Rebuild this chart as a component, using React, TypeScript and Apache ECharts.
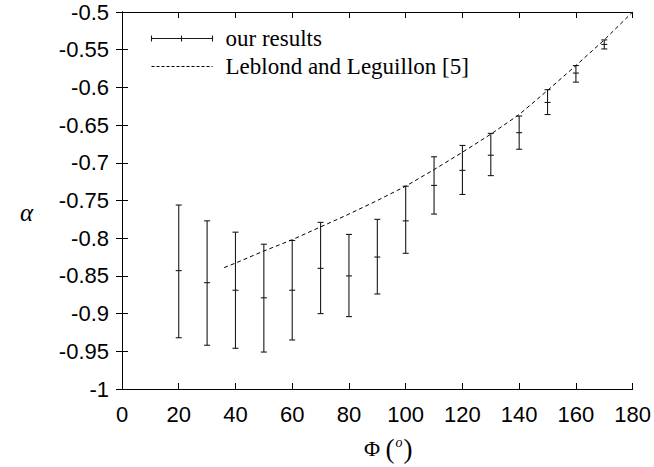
import React, { useEffect, useRef } from "react";
import * as echarts from "echarts";

// Our results: angle Φ (degrees), mean α, lower and upper error bounds
const phi = [20, 30, 40, 50, 60, 70, 80, 90, 100, 110, 120, 130, 140, 150, 160, 170];
const alphaMean = [-0.843, -0.859, -0.869, -0.879, -0.869, -0.84, -0.85, -0.825, -0.777, -0.73, -0.71, -0.69, -0.66, -0.62, -0.581, -0.543];
const alphaLow = [-0.932, -0.942, -0.946, -0.951, -0.935, -0.9, -0.904, -0.874, -0.82, -0.768, -0.742, -0.717, -0.682, -0.636, -0.593, -0.549];
const alphaHigh = [-0.756, -0.777, -0.792, -0.808, -0.803, -0.779, -0.795, -0.775, -0.731, -0.692, -0.677, -0.661, -0.638, -0.603, -0.571, -0.537];

// Leblond and Leguillon [5]
const leblondPhi = [36, 40, 50, 60, 70, 80, 90, 100, 110, 120, 130, 140, 150, 160, 170, 180];
const leblondAlpha = [-0.839, -0.833, -0.817, -0.802, -0.785, -0.768, -0.75, -0.731, -0.709, -0.686, -0.662, -0.636, -0.604, -0.571, -0.537, -0.5];

const legendLabels = ["our results", "Leblond and Leguillon [5]"];
const yTitle = "α";

export default function App() {
  const ref = useRef<HTMLDivElement>(null);
  useEffect(() => {
    if (!ref.current) return;
    document.body.style.margin = "0";
    document.body.style.overflow = "hidden";
    const chart = echarts.init(ref.current, null, { renderer: "svg" });
    const errData = phi.map((p, i) => [p, alphaMean[i], alphaLow[i], alphaHigh[i]]);
    const lineData = leblondPhi.map((p, i) => [p, leblondAlpha[i]]);
    const tickFont = { fontFamily: "Liberation Sans", fontSize: 22, color: "#000" };
    const serif = "Liberation Serif";
    const barStyle = { stroke: "#1a1a1a", lineWidth: 1.1 };
    chart.setOption({
      animation: false,
      backgroundColor: "#fff",
      grid: { left: 122, right: 19, top: 12, bottom: 74, containLabel: false },
      xAxis: [
        {
          type: "value", min: 0, max: 180, interval: 20, position: "bottom",
          axisLine: { show: true, lineStyle: { color: "#000", width: 1 } },
          axisTick: { inside: true, length: 6, lineStyle: { color: "#000" } },
          axisLabel: { ...tickFont, margin: 14 },
          splitLine: { show: false },
          name: "Φ {par|(}{sup|o}{par|)}",
          nameLocation: "middle",
          nameGap: 46,
          nameTextStyle: {
            fontFamily: serif, fontSize: 22, color: "#000", padding: [0, 0, 0, 22],
            rich: {
              par: { fontFamily: serif, fontSize: 27, color: "#000" },
              sup: { fontFamily: serif, fontSize: 14, fontStyle: "italic", color: "#000", padding: [0, 1, 12, 1] },
            },
          },
        },
        {
          type: "value", min: 0, max: 180, interval: 20, position: "top",
          axisLine: { show: true, lineStyle: { color: "#000", width: 1 } },
          axisTick: { inside: true, length: 6, lineStyle: { color: "#000" } },
          axisLabel: { show: false }, splitLine: { show: false },
        },
      ],
      yAxis: [
        {
          type: "value", min: -1, max: -0.5, interval: 0.05, position: "left",
          axisLine: { show: true, lineStyle: { color: "#000", width: 1 } },
          axisTick: { inside: true, length: 6, lineStyle: { color: "#000" } },
          axisLabel: { ...tickFont, margin: 13, formatter: (v: number) => String(+v.toFixed(2)) },
          splitLine: { show: false },
        },
        {
          type: "value", min: -1, max: -0.5, interval: 0.05, position: "right",
          axisLine: { show: true, lineStyle: { color: "#000", width: 1 } },
          axisTick: { inside: true, length: 6, lineStyle: { color: "#000" } },
          axisLabel: { show: false }, splitLine: { show: false },
        },
      ],
      series: [
        {
          name: legendLabels[0],
          type: "custom",
          xAxisIndex: 0, yAxisIndex: 0,
          data: errData,
          renderItem: (params: any, api: any) => {
            const x = api.value(0);
            const top = api.coord([x, api.value(3)]);
            const bot = api.coord([x, api.value(2)]);
            const mid = api.coord([x, api.value(1)]);
            const c = 3;
            return {
              type: "group",
              children: [
                { type: "line", shape: { x1: top[0], y1: top[1], x2: bot[0], y2: bot[1] }, style: barStyle },
                { type: "line", shape: { x1: top[0] - c, y1: top[1], x2: top[0] + c, y2: top[1] }, style: barStyle },
                { type: "line", shape: { x1: bot[0] - c, y1: bot[1], x2: bot[0] + c, y2: bot[1] }, style: barStyle },
                { type: "line", shape: { x1: mid[0] - c, y1: mid[1], x2: mid[0] + c, y2: mid[1] }, style: barStyle },
              ],
            };
          },
        },
        {
          name: legendLabels[1],
          type: "line",
          xAxisIndex: 0, yAxisIndex: 0,
          data: lineData,
          symbol: "none",
          smooth: false,
          lineStyle: { color: "#000", width: 1, type: [4, 3] },
        },
      ],
      graphic: [
        {
          type: "text",
          left: 20,
          top: 200,
          style: { text: yTitle, fontFamily: serif, fontStyle: "italic", fontSize: 25, fill: "#000" },
        },
        {
          type: "group",
          left: 149,
          top: 27,
          children: [
            { type: "line", shape: { x1: 0, y1: 8, x2: 61, y2: 8 }, style: barStyle },
            { type: "line", shape: { x1: 0, y1: 5, x2: 0, y2: 11 }, style: barStyle },
            { type: "line", shape: { x1: 61, y1: 5, x2: 61, y2: 11 }, style: barStyle },
            { type: "line", shape: { x1: 30, y1: 5, x2: 30, y2: 11 }, style: barStyle },
            { type: "text", x: 74, y: 8, style: { text: legendLabels[0], fontFamily: serif, fontSize: 23, fill: "#000", verticalAlign: "middle" } },
            { type: "line", shape: { x1: 0, y1: 36, x2: 61, y2: 36 }, style: { stroke: "#000", lineWidth: 1, lineDash: [3, 2] } },
            { type: "text", x: 74, y: 36, style: { text: legendLabels[1], fontFamily: serif, fontSize: 23, fill: "#000", verticalAlign: "middle" } },
          ],
        },
      ],
    });
    return () => chart.dispose();
  }, []);
  return <div ref={ref} style={{ width: 654, height: 467 }} />;
}
